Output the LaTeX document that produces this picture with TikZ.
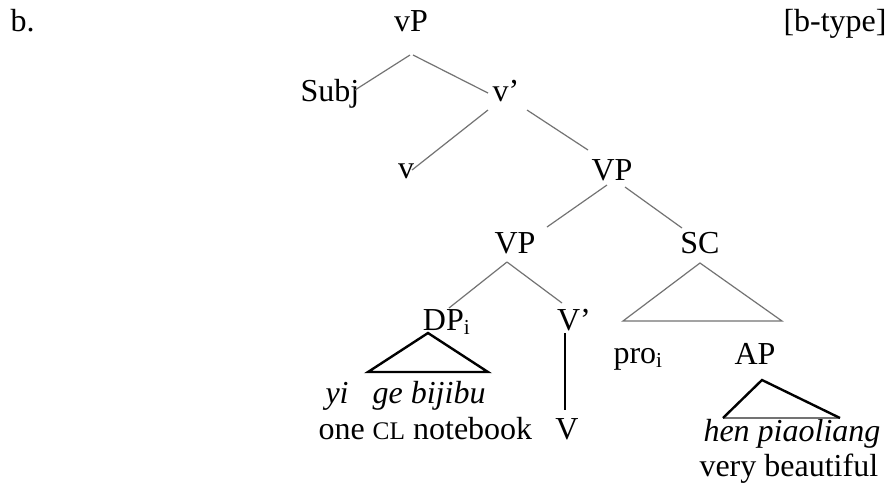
\documentclass[tikz,border=0pt]{standalone}
\usepackage{fontspec}
\setmainfont{Liberation Serif}
\usetikzlibrary{calc}
\begin{document}
\begin{tikzpicture}[x=0.375pt,y=-0.375pt,
  lbl/.style={inner sep=0pt, anchor=base, font=\fontsize{12}{14}\selectfont},
  lblw/.style={lbl, anchor=base west},
  branch/.style={draw=black!55, line width=0.45pt},
  heavy/.style={draw=black, line width=0.9pt, line join=miter}]
\useasboundingbox[fill=white] (0,0) rectangle (891,485);

% labels
\node[lblw] (ex) at (10,31) {b.};
\node[lbl] (vP) at (411,31) {vP};
\node[lblw] (type) at (783,31) {[b-type]};
\node[lbl] (Subj) at (330,101) {Subj};
\node[lbl] (vbar) at (506,101) {v’};
\node[lbl] (v) at (406,178) {v};
\node[lbl] (VP) at (612,180) {VP};
\node[lbl] (VPl) at (515,253) {VP};
\node[lbl] (SC) at (700,253) {SC};
\node[lbl] (DP) at (447,330) {DP\textsubscript{i}};
\node[lbl] (Vbar) at (574,330) {V’};
\node[lblw] (pro) at (613,363) {pro\textsubscript{i}};
\node[lbl] (AP) at (755,364) {AP};
\node[lblw] (yi) at (325,403) {\textit{yi}\hspace{0.75em}\textit{ge bijibu}};
\node[lblw] (gl1) at (318,439) {one {\fontsize{9.5}{10}\selectfont CL} notebook};
\node[lbl] (V) at (567,439) {V};
\node[lblw] (hen) at (703,441) {\textit{hen piaoliang}};
\node[lblw] (vb) at (699,476) {very beautiful};

% branches
\draw[branch] ($(vP.base)+(-1,24)$) -- ($(Subj.base)+(25,-11)$);
\draw[branch] ($(vP.base)+(2,24)$) -- ($(vbar.base)+(-18,-8)$);
\draw[branch] ($(vbar.base)+(-18,9)$) -- ($(v.base)+(6,-8)$);
\draw[branch] ($(vbar.base)+(21,9)$) -- ($(VP.base)+(-24,-30)$);
\draw[branch] ($(VP.base)+(-5,5)$) -- ($(VPl.base)+(32,-26)$);
\draw[branch] ($(VP.base)+(13,7)$) -- ($(SC.base)+(-18,-25)$);
\draw[branch] ($(VPl.base)+(-8,9)$) -- ($(DP.base)+(2,-22)$);
\draw[branch] ($(VPl.base)+(-8,9)$) -- ($(Vbar.base)+(-12,-27)$);

% SC triangle
\draw[branch] ($(SC.base)+(0,10)$) -- ($(SC.base)+(-77,68)$) -- ($(SC.base)+(82,68)$) -- cycle;
% DP triangle
\draw[heavy] ($(DP.base)+(-19,3)$) -- ($(DP.base)+(-79,42)$) -- ($(DP.base)+(41,42)$) -- cycle;
% V' to V
\draw[heavy] ($(Vbar.base)+(-9,3)$) -- ($(V.base)+(-2,-29)$);
% AP triangle
\draw[branch] ($(AP.base)+(-32,54)$) -- ($(AP.base)+(85,54)$);
\draw[heavy] ($(AP.base)+(-32,54)$) -- ($(AP.base)+(7,16)$) -- ($(AP.base)+(85,54)$);
\end{tikzpicture}
\end{document}
